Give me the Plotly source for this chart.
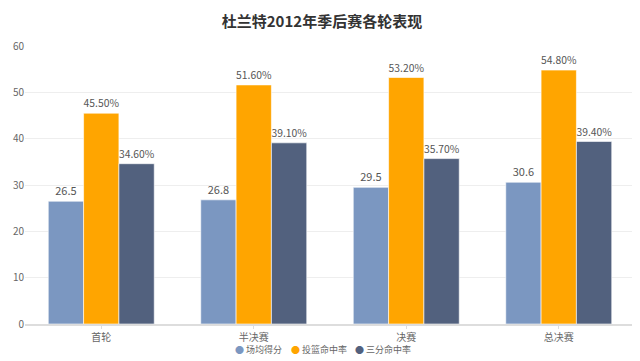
import plotly.graph_objects as go

categories = ["首轮", "半决赛", "决赛", "总决赛"]
series_names = ["场均得分", "投篮命中率", "三分命中率"]
points = [26.5, 26.8, 29.5, 30.6]
fg_pct = [45.5, 51.6, 53.2, 54.8]
three_pct = [34.6, 39.1, 35.7, 39.4]
colors = ["#7b97c1", "#ffa500", "#52617e"]

font_family = "Noto Sans CJK SC, sans-serif"

fig = go.Figure()
data = [points, fg_pct, three_pct]
texts = [
    [f"{v}" for v in points],
    [f"{v:.2f}%" for v in fg_pct],
    [f"{v:.2f}%" for v in three_pct],
]
for name, vals, txt, c in zip(series_names, data, texts, colors):
    fig.add_trace(go.Bar(
        x=categories, y=vals, name=name, text=txt, textposition="outside",
        textfont=dict(size=11, color="#555555"), cliponaxis=False,
        marker=dict(color=c, line=dict(color="rgba(255,255,255,0.6)", width=1)),
        showlegend=False,
    ))

# legend: one small annotation per series (coloured dot + name)
legend_x = [0.341, 0.433, 0.537]
for n, c, lx in zip(series_names, colors, legend_x):
    fig.add_annotation(
        text=f"<span style='color:{c}'>●</span> {n}", xref="paper", yref="paper",
        x=lx, y=-0.0935, xanchor="left", yanchor="middle", showarrow=False,
        font=dict(size=9, color="#666666", family=font_family),
    )

fig.update_layout(
    width=640, height=361,
    margin=dict(l=17, r=13, t=38, b=45),
    paper_bgcolor="white", plot_bgcolor="white",
    font=dict(family=font_family, size=11, color="#666666"),
    showlegend=False,
    title=dict(text="<b>杜兰特2012年季后赛各轮表现</b>", x=0.4906, xanchor="center",
               y=0.963, yanchor="middle", automargin=False,
               font=dict(size=15, color="#333333", family=font_family)),
    barmode="group", bargap=0.305, bargroupgap=0.0,
    xaxis=dict(showline=True, linecolor="#dddddd", linewidth=2, ticks="outside",
               ticklen=3, tickcolor="#dddddd", automargin=False,
               tickfont=dict(size=10, color="#666666")),
    yaxis=dict(range=[0, 60], dtick=10, gridcolor="#eeeeee", zeroline=False,
               automargin=False, tickfont=dict(size=10, color="#666666")),
)

fig.write_html("out.html")
